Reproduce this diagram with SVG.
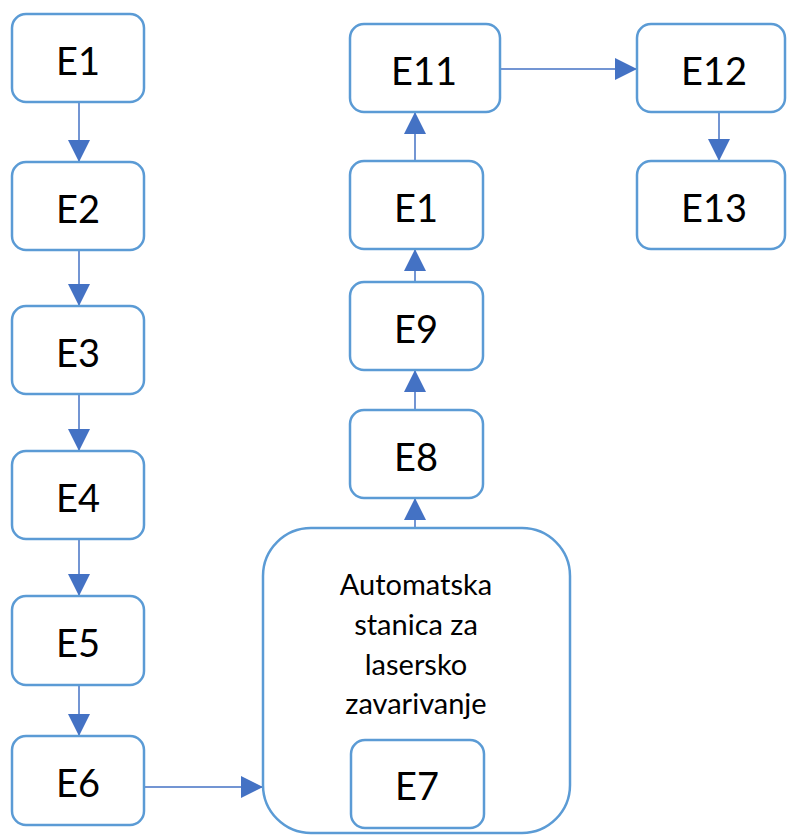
<svg xmlns="http://www.w3.org/2000/svg" width="787" height="835" viewBox="0 0 787 835">
<style>
.box{fill:#FFFFFF;stroke:#5B9BD5;stroke-width:2.5}
.lbl{font-family:Lato,"Open Sans","Liberation Sans",sans-serif;font-size:38px;fill:#000000;text-anchor:middle}
.sub{font-family:Lato,"Open Sans","Liberation Sans",sans-serif;font-size:29px;fill:#000000;text-anchor:middle}
.con{fill:none;stroke:#4472C4;stroke-width:1.5}
</style>
<defs>
<marker id="arr" markerUnits="userSpaceOnUse" markerWidth="22" markerHeight="22" refX="22" refY="11" orient="auto">
<path d="M0,0 L22,11 L0,22 Z" fill="#4472C4"/>
</marker>
</defs>
<rect width="787" height="835" fill="#FFFFFF"/>
<g id="connectors">
<line class="con" x1="79" y1="102" x2="79" y2="162" marker-end="url(#arr)"/>
<line class="con" x1="79" y1="250" x2="79" y2="306" marker-end="url(#arr)"/>
<line class="con" x1="79" y1="394" x2="79" y2="451" marker-end="url(#arr)"/>
<line class="con" x1="79" y1="539" x2="79" y2="596" marker-end="url(#arr)"/>
<line class="con" x1="79" y1="685" x2="79" y2="736" marker-end="url(#arr)"/>
<line class="con" x1="144" y1="787" x2="263" y2="787" marker-end="url(#arr)"/>
<line class="con" x1="415" y1="528" x2="415" y2="498" marker-end="url(#arr)"/>
<line class="con" x1="415" y1="410" x2="415" y2="370" marker-end="url(#arr)"/>
<line class="con" x1="415" y1="282" x2="415" y2="249" marker-end="url(#arr)"/>
<line class="con" x1="415" y1="161" x2="415" y2="112" marker-end="url(#arr)"/>
<line class="con" x1="500" y1="69" x2="637" y2="69" marker-end="url(#arr)"/>
<line class="con" x1="719" y1="112" x2="719" y2="161" marker-end="url(#arr)"/>
</g>
<g id="E1a"><rect class="box" x="12" y="14" width="132" height="88" rx="14"/><text class="lbl" x="78" y="75">E1</text></g>
<g id="E2"><rect class="box" x="12" y="162" width="132" height="88" rx="14"/><text class="lbl" x="78" y="223">E2</text></g>
<g id="E3"><rect class="box" x="12" y="306" width="132" height="88" rx="14"/><text class="lbl" x="78" y="367">E3</text></g>
<g id="E4"><rect class="box" x="12" y="451" width="132" height="88" rx="14"/><text class="lbl" x="78" y="512">E4</text></g>
<g id="E5"><rect class="box" x="12" y="596" width="132" height="89" rx="14"/><text class="lbl" x="78" y="657">E5</text></g>
<g id="E6"><rect class="box" x="12" y="736" width="132" height="89" rx="14"/><text class="lbl" x="78" y="797">E6</text></g>
<g id="station">
<rect class="box" x="263" y="528" width="307" height="305" rx="48"/>
<text class="sub" x="416" y="595">Automatska</text>
<text class="sub" x="416" y="635">stanica za</text>
<text class="sub" x="416" y="675">lasersko</text>
<text class="sub" x="416" y="714">zavarivanje</text>
</g>
<g id="E7"><rect class="box" x="351" y="740" width="133" height="88" rx="14"/><text class="lbl" x="417" y="800">E7</text></g>
<g id="E8"><rect class="box" x="350" y="410" width="133" height="88" rx="14"/><text class="lbl" x="416" y="471">E8</text></g>
<g id="E9"><rect class="box" x="350" y="282" width="133" height="88" rx="14"/><text class="lbl" x="416" y="343">E9</text></g>
<g id="E1b"><rect class="box" x="350" y="161" width="133" height="88" rx="14"/><text class="lbl" x="416" y="222">E1</text></g>
<g id="E11"><rect class="box" x="350" y="24" width="150" height="88" rx="14"/><text class="lbl" x="424" y="85">E11</text></g>
<g id="E12"><rect class="box" x="637" y="24" width="148" height="88" rx="14"/><text class="lbl" x="714" y="85">E12</text></g>
<g id="E13"><rect class="box" x="637" y="161" width="148" height="88" rx="14"/><text class="lbl" x="714" y="222">E13</text></g>
</svg>
